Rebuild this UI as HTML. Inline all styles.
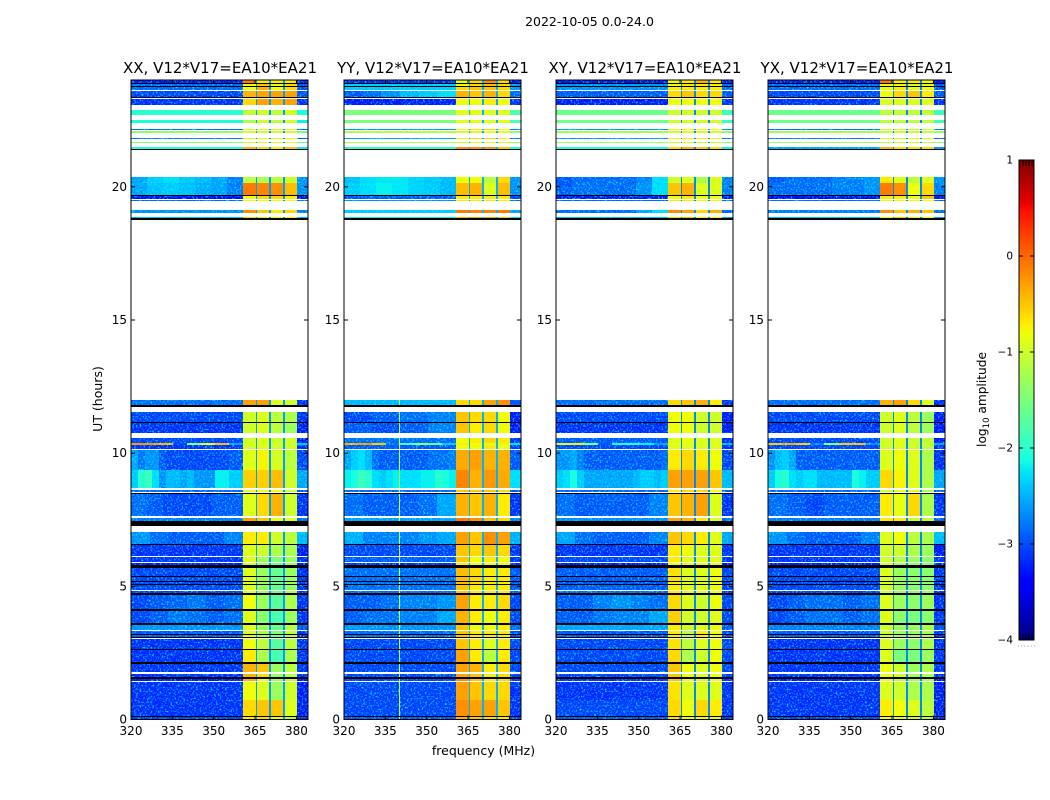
<!DOCTYPE html>
<html lang="en">
<head>
<meta charset="utf-8">
<title>2022-10-05 0.0-24.0</title>
<style>
html,body{margin:0;padding:0;background:#fff;}
body{width:1050px;height:800px;overflow:hidden;}
svg{display:block;font-family:"DejaVu Sans","Liberation Sans",sans-serif;}
</style>
</head>
<body>
<svg id="chart" xmlns="http://www.w3.org/2000/svg" width="1050" height="800" viewBox="0 0 1050 800">
  <defs>
    <filter id="speckle" x="0" y="0" width="100%" height="100%" color-interpolation-filters="sRGB">
      <feTurbulence type="fractalNoise" baseFrequency="0.55" numOctaves="2" seed="7" result="raw"/>
      <feColorMatrix in="raw" type="matrix" values="0 0 0 0 0  3 0 0 0 -1.5  0 0 0 0 0  0 0 0 0 1" result="n"/>
      <feComposite in="n" in2="SourceAlpha" operator="in" result="masked"/>
      <feBlend in="SourceGraphic" in2="masked" mode="screen"/>
    </filter>
    <linearGradient id="jet-gradient" x1="0" y1="1" x2="0" y2="0"></linearGradient>
  </defs>
  <text x="589.5" y="26" font-size="12.5" text-anchor="middle" fill="#000">2022-10-05 0.0-24.0</text>
  <text x="483.5" y="755" font-size="12.5" text-anchor="middle" fill="#000">frequency (MHz)</text>
  <text transform="translate(102,399) rotate(-90)" font-size="12.5" text-anchor="middle" fill="#000">UT (hours)</text>
  <text transform="translate(986,399.5) rotate(-90)" font-size="12.2" text-anchor="middle" fill="#000">log<tspan font-size="8.5" dy="3">10</tspan><tspan dy="-3"> amplitude</tspan></text>
  <g id="panels"></g>
  <g id="colorbar"></g>
</svg>
<script>
// ---- chart data ----
const panelTitles = ['XX, V12*V17=EA10*EA21','YY, V12*V17=EA10*EA21','XY, V12*V17=EA10*EA21','YX, V12*V17=EA10*EA21'];
const xTicks = [320,335,350,365,380];
const yTicks = [0,5,10,15,20];
const cbarTicks = [1,0,-1,-2,-3,-4];
// frequency edges (MHz) of the spectral windows
const lowBand = [320,360.6];
const highSegments = [[360.6,365.2],[365.6,370.2],[370.7,375.3],[375.7,380.2]];
const edgeBand = [380.2,384.2];
const separatorLevel = [-2.6,-2.5,-2.7,-2.7];
// time rows: [top UT, kind]; next row's top is its bottom. d = data, k = flagged (black), w = no data (white)
const timeRows = [[24,'d'],[23.9,'k'],[23.87,'d'],[23.79,'k'],[23.76,'d'],[23.64,'w'],[23.61,'d'],[23.37,'k'],[23.32,'w'],[23.29,'d'],[23.08,'w'],[22.89,'d'],[22.7,'w'],[22.52,'d'],[22.38,'w'],[22.18,'d'],[22.12,'w'],[22.08,'d'],[22.03,'w'],[21.83,'d'],[21.78,'w'],[21.69,'d'],[21.63,'w'],[21.48,'d'],[21.43,'k'],[21.39,'w'],[20.36,'d'],[20.15,'d'],[19.7,'k'],[19.66,'d'],[19.56,'w'],[19.52,'d'],[19.45,'w'],[19.14,'d'],[19.01,'w'],[18.88,'d'],[18.84,'k'],[18.77,'w'],[12,'d'],[11.81,'k'],[11.74,'w'],[11.56,'d'],[11.18,'k'],[11.15,'d'],[10.77,'w'],[10.56,'d'],[10.37,'d'],[10.31,'d'],[10.14,'w'],[10.11,'d'],[9.37,'d'],[8.68,'w'],[8.62,'d'],[8.56,'w'],[8.49,'k'],[8.45,'d'],[7.64,'w'],[7.57,'d'],[7.47,'k'],[7.28,'w'],[7.04,'d'],[6.59,'k'],[6.55,'d'],[6.15,'w'],[6.11,'d'],[5.92,'w'],[5.87,'d'],[5.8,'k'],[5.7,'d'],[5.4,'k'],[5.34,'d'],[5.2,'k'],[5.15,'d'],[5.08,'k'],[5.05,'d'],[4.86,'w'],[4.83,'d'],[4.74,'k'],[4.68,'d'],[4.14,'k'],[4.08,'d'],[3.61,'k'],[3.56,'d'],[3.36,'w'],[3.32,'d'],[3.2,'k'],[3.17,'d'],[3.11,'k'],[3.07,'w'],[3.02,'d'],[2.64,'k'],[2.6,'d'],[2.15,'k'],[2.07,'d'],[1.77,'w'],[1.72,'d'],[1.6,'k'],[1.51,'d'],[1.46,'w'],[1.42,'d'],[0.75,'d'],[0.13,'k'],[0.1,'d']];
// log10 amplitude per data row: [low band (one value or several across it), seg1, seg2, seg3, seg4, edge]
const valuesXX = [
[-3.3,-.1,-.7,-.7,-.7,-3.3],[-2.9,-.8,-.5,-.8,-.6,-3],[-2.9,-.8,-.4,-.8,-.6,-3],[-3.1,-.4,-.3,-.3,-.3,-3],[-3.2,-.6,-.3,-.4,-.3,-3.2],
[-2,-1.1,-1,-1.1,-1,-2.1],[-2.1,-1.2,-1,-1.1,-1,-2.2],[-2.9,-.9,-.9,-.9,-.9,-2.9],[-1.4,-1,-1,-1,-1,-1.6],[-2.8,-.9,-.8,-.9,-.8,-2.9],
[-1.4,-1,-.9,-.9,-.9,-1.6],[-2.1,-.4,-.6,-.7,-.5,-2.2],[[-2.6,-2.4,-2.3,-2.4,-2.5,-2.6,-2.8],-1.1,-1.2,-1.1,-1,-2.7],[[-2.6,-2.45,-2.4,-2.45,-2.55,-2.6,-2.8],-.1,-.15,-.2,-.45,-2.7],[-3.4,-.8,-.6,-.6,-.7,-3.3],
[-2.9,-.8,-.8,-.8,-.8,-2.9],[-2.7,-.2,-.5,-.7,-.6,-2.8],[-2.5,-.6,-.7,-.8,-.7,-2.5],
[-2.9,-.3,-.3,-.9,-1,-3.2],[-3.1,-1,-.9,-1.1,-1.2,-3.2],[-3.2,-1,-.9,-1.1,-1.3,-3.3],[-3.1,-1,-.9,-1,-1,-3.3],
[[-.2,-.2,-.4,-3.1,-1.4,-.8,-.4,-2.6],-.9,-.9,-1,-1,-2.4],[-3.2,-1,-.9,-1,-1,-3.2],[[-2.6,-2.85,-2.7,-2.7,-3,-3.1,-3.1,-3.1,-3.1,-3.1,-3.1,-3.1,-3.1,-3.1,-3,-3],-.9,-.75,-.95,-1.1,-3.1],
[[-2.4,-2,-1.9,-2.3,-2.7,-2.5,-2.5,-2.6,-2.5,-2.7,-2.7,-2.7,-2.2,-2.2,-2.4,-2.4],-.55,-.55,-.45,-1,-2.6],[-2.9,-.9,-.8,-.8,-1,-3],[[-2.9,-3,-3.1,-3.1,-3.1,-3,-3],-.9,-.6,-.4,-1,-3.2],[-2.8,-.3,-.5,-.8,-.9,-2.9],
[[-2.7,-2.9,-3,-3,-3,-2.8],-.7,-.7,-1,-1.1,-2.5],[-3.2,-.9,-1,-1.2,-1.2,-3.3],[-3.2,-.9,-1.3,-1.5,-1.3,-3.2],[-3.3,-1,-1.3,-1.6,-1.3,-3.3],[-3.1,-.9,-1.3,-1.6,-1.3,-3.2],
[-3.1,-.9,-1.3,-1.6,-1.3,-3.2],[-3.1,-.9,-1.3,-1.6,-1.3,-3.2],[-3.1,-.9,-1.3,-1.6,-1.3,-3.2],[-3.1,-.9,-1.3,-1.6,-1.2,-3.2],
[[-3.1,-3,-2.95,-2.85,-3,-2.9],-.8,-1.3,-1.7,-1.2,-3.2],[[-3.1,-3,-2.85,-2.9,-3,-2.9],-.9,-1.4,-1.8,-1.3,-3.2],[-2.7,-.9,-1.3,-1.6,-1.1,-3],[-3,-.9,-1.2,-1.5,-1.1,-3.2],[-3,-.9,-1.2,-1.5,-1.1,-3.2],
[-3.2,-.8,-1.1,-1.7,-1.1,-3.2],[-3.2,-.7,-1.2,-1.8,-1.2,-3.2],[-3.2,-.4,-.5,-1.3,-1.1,-3.2],[-3.2,-.4,-.6,-1.3,-1.1,-3.2],[-3.3,-.4,-.8,-1.3,-1.1,-3.3],
[-3.2,-.8,-.9,-1.3,-1,-3.3],[-3.2,-.6,-.5,-.5,-.9,-3.3],[-3.1,-.7,-.6,-.9,-1.1,-3.2]];
const valuesYY = [
[-3.2,-.9,-.6,-.2,-.6,-3.3],[-2.4,-.8,-.6,-.5,-.6,-2.7],[-2.4,-.6,-.5,-.5,-.6,-2.7],[[-3,-2.9,-2.7,-2.5,-2.4,-2.3],-.4,-.5,-.4,-.6,-2.9],[-3.3,-.8,-.8,-.7,-.8,-3.2],
[-1.5,-.9,-.9,-.9,-.9,-1.8],[-1.5,-.9,-.9,-.9,-.9,-1.8],[-2.7,-.8,-.7,-.6,-.8,-2.8],[-1.2,-1,-.9,-.8,-.9,-1.4],[-2.6,-.8,-.6,-.6,-.7,-2.8],
[-1.2,-1,-.9,-.9,-1,-1.3],[-2,-.2,-.2,-.2,-.5,-2.1],[[-2.45,-2.3,-2.25,-2.25,-2.35,-2.4,-2.5],-.8,-.8,-1.1,-.6,-2.7],[[-2.4,-2.3,-2.2,-2.25,-2.35,-2.4,-2.5],-.45,-.4,-.9,-.45,-2.7],[-3,-.7,-.7,-.7,-.7,-3.1],
[-2.7,-.7,-.7,-.7,-.7,-2.9],[-2.4,-.1,-.15,-.15,-.1,-2.6],[-2.2,-.4,-.3,-.3,-.5,-2.3],
[-2.5,-.6,-.6,-.3,-.2,-3],[[-3.1,-3,-2.9,-2.8],-.5,-.6,-.6,-.8,-3.3],[[-3,-3.1,-3,-2.8],-.5,-.7,-.6,-.8,-3.3],[-2.9,-.8,-.7,-.6,-.7,-3.2],
[[-.3,-.2,-.5,-2.9,-1.8,-1.4,-1.6,-2.4],-.7,-.8,-.9,-.9,-2.3],[-3,-.8,-.8,-.7,-.8,-3.1],[[-2.6,-2.4,-2.3,-2.5,-2.9,-3,-3,-3,-3,-3,-3,-3,-2.9,-2.9,-2.9,-2.8],-.35,-.3,-.4,-.4,-3],
[[-2.2,-2.1,-1.9,-2,-2.3,-2.4,-2.3,-2.2,-2.3,-2.3,-2.3,-2.2,-2.2,-2,-2.1,-2.2],-.15,-.4,-.25,-.35,-2.3],[-2.9,-.5,-.5,-.5,-.6,-3],[[-2.9,-3,-3,-3,-2.9,-2.6],-.4,-.5,-.4,-.7,-3.2],[-2.6,-.1,-.2,-.5,-.6,-2.8],
[[-2.55,-2.8,-2.8,-2.8,-2.7,-2.6],-.3,-.5,-.2,-.3,-2.55],[-3.1,-.5,-.6,-.5,-.6,-3.2],[-3,-.5,-.8,-.7,-.8,-3.2],[-3.2,-.7,-.8,-.8,-.8,-3.2],[-2.9,-.45,-.6,-.7,-.7,-3],
[-2.9,-.45,-.6,-.7,-.7,-3],[-2.9,-.45,-.6,-.7,-.7,-3],[-2.9,-.5,-.7,-.7,-.7,-3],[-2.9,-.5,-.7,-.7,-.7,-3],
[[-3,-3,-2.9,-2.8,-2.8,-2.7],-.3,-.7,-.7,-.6,-3.1],[[-3,-2.9,-2.9,-2.8,-2.8,-2.6],-.4,-.7,-.8,-.7,-3.1],[-2.7,-.5,-.8,-.8,-.7,-2.9],[-2.9,-.5,-.7,-.7,-.7,-3.1],[-2.9,-.5,-.7,-.7,-.7,-3.1],
[-3.1,-.5,-.7,-.9,-.7,-3.1],[-3.1,-.3,-.7,-1.1,-.7,-3.1],[-3.1,-.3,-.4,-.7,-.6,-3.1],[-3.1,-.3,-.5,-.7,-.6,-3.1],[-3.1,-.2,-.5,-.7,-.6,-3.1],
[-3.1,-.3,-.5,-.6,-.6,-3.2],[-3.1,-.2,-.3,-.3,-.5,-3.2],[-3,-.4,-.5,-.6,-.7,-3.1]];
const valuesXY = [
[-3.3,-.8,-.7,-.4,-.7,-3.3],[-2.7,-.8,-.7,-.7,-.7,-2.9],[-2.7,-.7,-.7,-.7,-.7,-2.9],[-3,-.6,-.5,-.6,-.6,-3],[-3.3,-.8,-.8,-.8,-.8,-3.2],
[-1.6,-1,-1,-1,-1,-1.9],[-1.6,-1,-1,-1,-1,-1.9],[-2.7,-.8,-.8,-.8,-.8,-2.8],[-1.3,-1,-.9,-.9,-1,-1.4],[-2.7,-.8,-.7,-.7,-.8,-2.8],
[-1.3,-1,-.9,-1,-1,-1.4],[-2.1,-.6,-.4,-.5,-.6,-2.2],[[-3,-2.9,-2.9,-2.9,-2.9,-2.8,-2.3],-1,-.9,-1.2,-.9,-2.8],[[-3,-2.9,-2.9,-2.9,-2.9,-2.7,-2.3],-.5,-.4,-.9,-.9,-2.8],[-3.3,-.8,-.7,-.8,-.8,-3.3],
[-2.9,-.7,-.7,-.8,-.8,-2.9],[[-2.9,-2.9,-2.9,-2.9,-2.9,-2.6,-2.3],-.2,-.3,-.6,-.4,-2.9],[-2.5,-.6,-.5,-.7,-.7,-2.6],
[-2.9,-.6,-.5,-.4,-.7,-3.2],[-3.1,-.8,-.8,-1,-1,-3.3],[-3.2,-.8,-.8,-1,-1,-3.3],[-3,-.9,-.8,-.9,-.9,-3.2],
[[-.9,-.7,-1.4,-3,-2,-2,-2.2,-2.6],-.8,-.9,-.9,-.9,-2.5],[-3.1,-.9,-.9,-.9,-.9,-3.2],[[-2.7,-2.7,-2.6,-2.8,-3,-3,-3,-3,-3,-3,-3,-3,-3,-3,-3,-2.9],-.7,-.6,-.7,-.8,-3.1],
[[-2.4,-2.3,-2.1,-2.4,-2.6,-2.6,-2.6,-2.6,-2.6,-2.6,-2.6,-2.5,-2.4,-2.4,-2.5,-2.4],-.3,-.3,-.3,-.5,-2.5],[-2.9,-.7,-.6,-.6,-.8,-3],[[-2.9,-3,-3,-3,-3,-2.8],-.5,-.4,-.3,-.9,-3.2],[-2.7,-.3,-.4,-.7,-.9,-2.9],
[[-2.6,-2.9,-3,-3,-3,-2.8],-.5,-.6,-.7,-.9,-2.6],[-3.2,-.7,-.8,-.9,-.9,-3.2],[-3.1,-.7,-.9,-.9,-.9,-3.2],[-3.3,-.8,-.9,-.9,-.9,-3.3],[-3,-.65,-.9,-.9,-.8,-3.1],
[-3,-.65,-.9,-.9,-.8,-3.1],[-3,-.7,-.9,-.9,-.8,-3.1],[-3,-.7,-.9,-.9,-.8,-3.1],[-2.9,-.7,-.9,-.9,-.8,-3.1],
[[-3,-3,-2.8,-2.7,-2.8,-2.9],-.6,-.9,-1,-.8,-3.1],[[-3,-3,-2.85,-2.8,-2.8,-2.6],-.55,-1,-1,-.9,-3.1],[-2.6,-.7,-1,-.9,-.8,-3],[-3,-.7,-1.1,-.7,-.8,-3.1],[-3,-.7,-1.1,-.7,-.8,-3.1],
[-3.1,-.65,-1.1,-.9,-.8,-3.1],[-3.1,-.6,-1.2,-1,-.8,-3.1],[-3.1,-.5,-.8,-.9,-.8,-3.1],[-3.1,-.5,-.8,-.9,-.8,-3.1],[-3.2,-.5,-.8,-.9,-.8,-3.2],
[-3.2,-.65,-.9,-.9,-.9,-3.2],[-3.1,-.6,-.8,-.6,-.7,-3.2],[-3,-.65,-.8,-.8,-.9,-3.1]];
const valuesYX = [
[-3.3,-.1,-.7,-.7,-.8,-3.3],[-2.9,-.8,-.8,-.9,-.8,-3],[-2.9,-.8,-.7,-.9,-.8,-3],[-3.1,-.8,-.6,-.5,-.7,-3],[-3.2,-.9,-.9,-.9,-.9,-3.2],
[-1.6,-1.1,-1.1,-1.1,-1.1,-1.9],[-1.6,-1.1,-1.1,-1.1,-1.1,-1.9],[-2.9,-1,-1,-1,-1,-2.9],[-1.3,-1.1,-1,-1,-1.1,-1.4],[-2.8,-.9,-.9,-.9,-.9,-2.9],
[-1.3,-1.1,-1,-1,-1.1,-1.4],[-2.6,-.4,-.6,-.6,-.6,-2.7],[[-3,-2.9,-2.9,-2.9,-2.8,-2.8,-2.7],-.7,-.9,-1.1,-.9,-2.7],[[-2.9,-2.9,-2.9,-2.9,-2.8,-2.8,-2.7],-.1,-.2,-.8,-.6,-2.8],[-3.4,-.7,-.7,-.8,-.5,-3.3],
[-2.9,-.8,-.8,-.8,-.8,-3],[-2.8,-.2,-.5,-.4,-.5,-2.9],[-2.5,-.8,-.5,-.7,-.8,-2.6],
[-2.9,-.4,-.3,-.6,-.9,-3.2],[-3.1,-1,-.9,-1.1,-1.3,-3.3],[-3.2,-1,-.9,-1.1,-1.3,-3.3],[-3.1,-1,-.9,-1,-1.1,-3.3],
[[-.5,-.3,-.5,-2.8,-1.4,-.5,-.4,-2.7],-.9,-.9,-1,-1,-2.6],[-3.1,-1,-.9,-1,-1.1,-3.2],[[-2.7,-2.5,-2.4,-2.6,-3,-3,-3,-3,-3,-3,-3,-3,-3,-3,-3,-3],-.9,-.8,-.9,-1.2,-3.2],
[[-2.4,-2.1,-2,-2.3,-2.4,-2.3,-2.3,-2.5,-2.5,-2.5,-2.5,-2.5,-2.1,-2.2,-2.4,-2.4],-.6,-.75,-.9,-1.2,-2.6],[-2.9,-1,-.9,-1,-1.2,-3],[[-2.9,-3,-3.1,-3,-3,-3],-.7,-.85,-.6,-1.2,-3.2],[-2.8,-.7,-.7,-1,-1.1,-2.9],
[[-2.7,-2.9,-3,-3,-3,-2.8],-.9,-.8,-1.1,-1.2,-2.5],[-3.2,-1,-1,-1.2,-1.3,-3.3],[-3.2,-1,-1.2,-1.3,-1.4,-3.2],[-3.3,-1,-1.2,-1.4,-1.4,-3.3],[-3.1,-.9,-1.3,-1.4,-1.4,-3.2],
[-3.1,-.9,-1.3,-1.4,-1.4,-3.2],[-3.1,-.9,-1.3,-1.4,-1.4,-3.2],[-3.1,-1,-1.3,-1.4,-1.4,-3.2],[-3.1,-1,-1.3,-1.4,-1.3,-3.2],
[[-3.1,-3,-2.9,-2.9,-3,-2.9],-.9,-1.3,-1.4,-1.3,-3.2],[[-3.1,-3,-2.9,-2.9,-3,-2.9],-.9,-1.4,-1.5,-1.4,-3.2],[-2.8,-1,-1.3,-1.3,-1.2,-3],[-3,-1,-1.3,-1.3,-1.2,-3.2],[-3,-1,-1.3,-1.3,-1.2,-3.2],
[-3.2,-.9,-1.3,-1.4,-1.2,-3.2],[-3.2,-.9,-1.5,-1.5,-1.3,-3.2],[-3.2,-.8,-1,-1.3,-1.2,-3.2],[-3.2,-.8,-1,-1.3,-1.2,-3.2],[-3.3,-.8,-1.1,-1.3,-1.2,-3.3],
[-3.2,-.9,-1,-1.2,-1.2,-3.3],[-3.2,-.7,-.8,-.9,-1.1,-3.3],[-3.1,-.8,-.9,-1,-1.2,-3.2]];
const panelValues = [valuesXX,valuesYY,valuesXY,valuesYX];
// narrow persistent interference channel seen only in YY below 12 UT: [MHz, level]
const rfiChannelYY = [339.8,-1.1];

// ---- helpers ----
const NS = 'http://www.w3.org/2000/svg';
const axesLeft = [131,344,556,768];
const axesWidth = 177, axesTop = 80.3, axesBottom = 719.5;
const freqMin = 320, freqMax = 384.2, utMin = 0, utMax = 24;
const cbarMin = -4, cbarMax = 1, cbarLeft = 1019, cbarRight = 1034, cbarTop = 160, cbarBottom = 640;
function xScale(p,f){return axesLeft[p]+(f-freqMin)/(freqMax-freqMin)*axesWidth;}
function yScale(ut){return axesBottom-(ut-utMin)/(utMax-utMin)*(axesBottom-axesTop);}
function cbarScale(v){return cbarBottom-(v-cbarMin)/(cbarMax-cbarMin)*(cbarBottom-cbarTop);}
function lerp(pts,t){
  if(t<=pts[0][0])return pts[0][1];
  for(let i=1;i<pts.length;i++){
    if(t<=pts[i][0]){return pts[i-1][1]+(t-pts[i-1][0])/(pts[i][0]-pts[i-1][0])*(pts[i][1]-pts[i-1][1]);}
  }
  return pts[pts.length-1][1];
}
const jetR=[[0,0],[.35,0],[.66,1],[.89,1],[1,.5]];
const jetG=[[0,0],[.125,0],[.375,1],[.64,1],[.91,0],[1,0]];
const jetB=[[0,.5],[.11,1],[.34,1],[.65,0],[1,0]];
function jet(t){
  return 'rgb('+Math.round(255*lerp(jetR,t))+','+Math.round(255*lerp(jetG,t))+','+Math.round(255*lerp(jetB,t))+')';
}
function levelColor(v){return jet(Math.max(0,Math.min(1,(v-cbarMin)/(cbarMax-cbarMin))));}
function make(tag,attrs,parent){
  const el=document.createElementNS(NS,tag);
  for(const k in attrs){el.setAttribute(k,attrs[k]);}
  parent.appendChild(el);
  return el;
}
function cell(parent,p,f0,f1,t0,t1,fill){
  const x0=Math.round(xScale(p,f0)),x1=Math.round(xScale(p,f1));
  const y0=Math.round(yScale(t0)),y1=Math.round(yScale(t1));
  const r=make('rect',{x:x0,y:y0,width:Math.max(1,x1-x0),height:Math.max(1,y1-y0),fill:fill,'shape-rendering':'crispEdges'},parent);
  
  
  return r;
}

// ---- panels ----
const panelsRoot=document.getElementById('panels');
panelValues.forEach(function(values,p){
  const g=make('g',{},panelsRoot);
  
  
  const noisy=make('g',{filter:'url(#speckle)'},g);
  
  
  const smooth=make('g',{},g);
  
  
  const flagged=make('g',{},g);
  
  
  let d=0;
  timeRows.forEach(function(entry,i){
    const top=entry[0];
    const bottom=i+1<timeRows.length?timeRows[i+1][0]:utMin;
    const kind=entry[1];
    if(kind==='w'){return;}
    if(kind==='k'){
      cell(flagged,p,lowBand[0],edgeBand[1],top,bottom,'#000');
      return;
    }
    const row=values[d++];
    const low=Array.isArray(row[0])?row[0]:[row[0]];
    const step=(lowBand[1]-lowBand[0])/low.length;
    low.forEach(function(v,j){
      cell(noisy,p,lowBand[0]+j*step,lowBand[0]+(j+1)*step,top,bottom,levelColor(v));
    });
    highSegments.forEach(function(seg,s){
      cell(smooth,p,seg[0],seg[1],top,bottom,levelColor(row[s+1]));
      if(s<highSegments.length-1){
        cell(smooth,p,seg[1],highSegments[s+1][0],top,bottom,levelColor(separatorLevel[p]));
      }
    });
    cell(noisy,p,edgeBand[0],edgeBand[1],top,bottom,levelColor(row[5]));
    if(p===1&&top<=12){
      cell(smooth,p,rfiChannelYY[0],rfiChannelYY[0]+.3,top,bottom,levelColor(rfiChannelYY[1]));
    }
  });
  // frame
  const L=axesLeft[p],R=L+axesWidth;
  const frame=make('rect',{x:L,y:80,width:axesWidth,height:axesBottom-80,fill:'none',stroke:'#000','stroke-width':1},g);
  
  
  // title
  const title=make('text',{x:L+axesWidth/2+.5,y:73,'font-size':15,'text-anchor':'middle',fill:'#000'},g);
  
  
  title.textContent=panelTitles[p];
  // x ticks
  xTicks.forEach(function(f){
    const x=xScale(p,f);
    const t1=make('line',{x1:x,x2:x,y1:axesBottom,y2:axesBottom-4,stroke:'#000','stroke-width':1},g);
    
    
    const t2=make('line',{x1:x,x2:x,y1:80,y2:84,stroke:'#000','stroke-width':1},g);
    
    
    const lab=make('text',{x:x,y:735,'font-size':12,'text-anchor':'middle',fill:'#000'},g);
    
    
    lab.textContent=f;
  });
  // y ticks
  yTicks.forEach(function(ut){
    const y=yScale(ut);
    const t1=make('line',{x1:L,x2:L+4,y1:y,y2:y,stroke:'#000','stroke-width':1},g);
    
    
    const t2=make('line',{x1:R,x2:R-4,y1:y,y2:y,stroke:'#000','stroke-width':1},g);
    
    
    const lab=make('text',{x:L-4,y:y+4,'font-size':12,'text-anchor':'end',fill:'#000'},g);
    
    
    lab.textContent=ut;
  });
});

// ---- colorbar ----
const grad=document.getElementById('jet-gradient');
[0,.11,.125,.34,.35,.375,.64,.65,.66,.89,.91,1].forEach(function(t){
  make('stop',{offset:t,'stop-color':jet(t)},grad);
});
const cb=document.getElementById('colorbar');
const bar=make('rect',{x:cbarLeft,y:cbarTop,width:cbarRight-cbarLeft,height:cbarBottom-cbarTop,fill:'url(#jet-gradient)',stroke:'#000','stroke-width':1},cb);


cbarTicks.forEach(function(v){
  const y=cbarScale(v);
  if(v>cbarMin&&v<cbarMax){
    const a=make('line',{x1:cbarLeft,x2:cbarLeft+4,y1:y,y2:y,stroke:'#000','stroke-width':1},cb);
    
    
    const b=make('line',{x1:cbarRight,x2:cbarRight-4,y1:y,y2:y,stroke:'#000','stroke-width':1},cb);
    
    
  }
  const lab=make('text',{x:1013,y:y+3.5,'font-size':10.5,'text-anchor':'end',fill:'#000'},cb);
  
  
  lab.textContent=String(v).replace('-','\u2212');
});
[1023,1026,1029,1032].forEach(function(x){
  const a=make('line',{x1:x,x2:x,y1:cbarTop,y2:cbarTop+6,stroke:'#000','stroke-width':1},cb);
  
  
  const b=make('line',{x1:x,x2:x,y1:cbarBottom,y2:cbarBottom-6,stroke:'#000','stroke-width':1},cb);
  
  
});
const dots=make('line',{x1:1018,x2:1035,y1:646,y2:646,stroke:'#999','stroke-width':1,'stroke-dasharray':'1 2.2'},cb);


</script>
</body>
</html>
